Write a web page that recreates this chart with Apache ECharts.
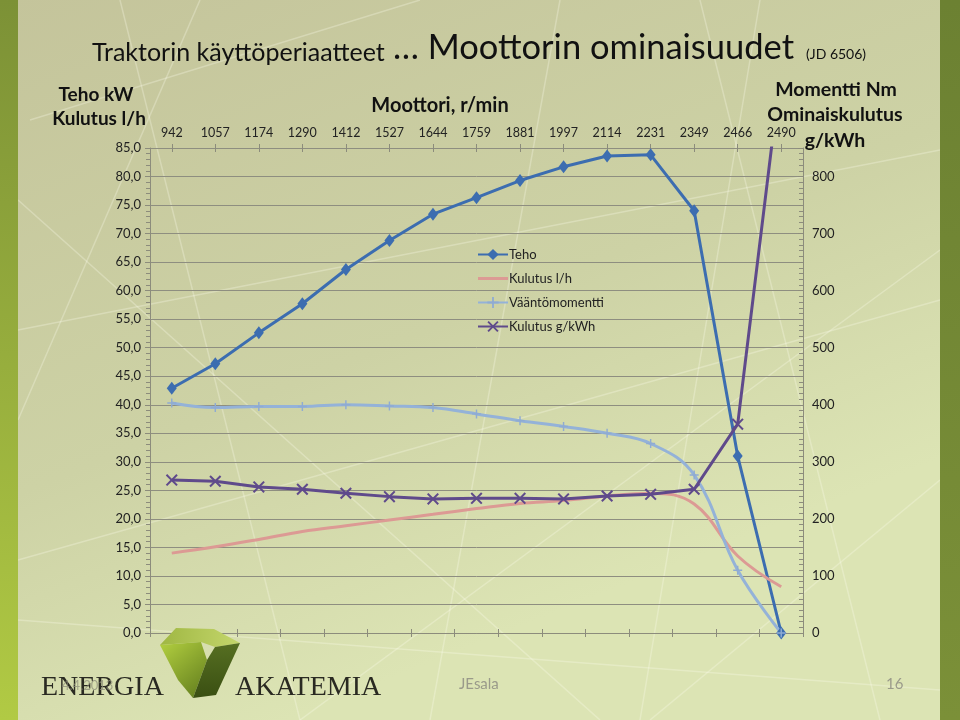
<!DOCTYPE html>
<html>
<head>
<meta charset="utf-8">
<script src="https://cdn.jsdelivr.net/npm/echarts@6/dist/echarts.min.js"></script>
<style>html,body{margin:0;padding:0;}#c{width:960px;height:720px;}</style>
</head>
<body>
<div id="c"></div>
<script>
// ---- data ----
const rpm = ['942','1057','1174','1290','1412','1527','1644','1759','1881','1997','2114','2231','2349','2466','2490'];
const teho = [42.9, 47.2, 52.6, 57.7, 63.7, 68.8, 73.4, 76.3, 79.3, 81.7, 83.6, 83.8, 74.0, 31.0, 0];
const kulutusLh = [14.0, 15.1, 16.4, 17.8, 18.8, 19.8, 20.8, 21.8, 22.7, 23.2, 24.0, 24.5, 22.6, 13.5, 8.1];
const vaanto = [403, 395, 397, 397, 400, 398, 395, 384, 372, 362, 350, 332, 277, 110, 0];
const kulutusGkwh = [268, 266, 256, 252, 245, 239, 235, 236, 236, 235, 240, 243, 252, 366, 990];
const seriesNames = ['Teho', 'Kulutus l/h', 'Vääntömomentti', 'Kulutus g/kWh'];

const FONT = 'Lato';
const chart = echarts.init(document.getElementById('c'), null, {renderer: 'canvas'});
const axisGray = '#8c8c7c';
const xSym = 'path://M0,1.2 L1.2,0 L5,3.8 L8.8,0 L10,1.2 L6.2,5 L10,8.8 L8.8,10 L5,6.2 L1.2,10 L0,8.8 L3.8,5 Z';
const plusSym = 'path://M4.2,0 L5.8,0 L5.8,4.2 L10,4.2 L10,5.8 L5.8,5.8 L5.8,10 L4.2,10 L4.2,5.8 L0,5.8 L0,4.2 L4.2,4.2 Z';

function xAx(show, align, inside) {
  return {
    type: 'category', position: 'top', data: rpm, boundaryGap: true,
    axisLine: {show: show, lineStyle: {color: axisGray}},
    axisTick: {show: true, alignWithLabel: align, inside: inside, length: 4, lineStyle: {color: axisGray}},
    axisLabel: {show: show, interval: 0, margin: 9, fontFamily: FONT, fontSize: 12.5, color: '#222'},
    splitLine: {show: false}
  };
}

const lines = [];
// decorative faint background lines
const deco = [
  [[30,120],[420,0]], [[120,0],[300,720]], [[560,0],[430,720]], [[700,0],[880,720]],
  [[18,330],[940,150]], [[18,560],[940,300]], [[300,720],[940,250]], [[18,200],[600,720]],
  [[650,720],[940,480]], [[200,0],[18,420]], [[760,0],[640,720]], [[18,620],[940,690]]
];
deco.forEach(d => lines.push({type:'line', z:-9, silent:true,
  shape:{x1:d[0][0],y1:d[0][1],x2:d[1][0],y2:d[1][1]},
  style:{stroke:'rgba(255,255,240,0.28)', lineWidth:1.5}}));

const option = {
  animation: false,
  graphic: [
    {type:'rect', z:-10, silent:true, shape:{x:0,y:0,width:960,height:720},
      style:{fill:{type:'linear',x:0,y:0,x2:0.3,y2:1,colorStops:[{offset:0,color:'#c4c49b'},{offset:0.6,color:'#cdd2a5'},{offset:1,color:'#dce4b4'}]}}},
    {type:'rect', z:-8, silent:true, shape:{x:0,y:0,width:18,height:720},
      style:{fill:{type:'linear',x:0,y:0,x2:0,y2:1,colorStops:[{offset:0,color:'#7c9136'},{offset:1,color:'#b1ca44'}]}}},
    {type:'rect', z:-8, silent:true, shape:{x:940,y:0,width:20,height:720},
      style:{fill:{type:'linear',x:0,y:0,x2:0,y2:1,colorStops:[{offset:0,color:'#6c8132'},{offset:1,color:'#7b9038'}]}}},
    ...lines,
    // titles
    {type:'text', left:92, top:40, style:{text:'Traktorin käyttöperiaatteet', font:'25px '+FONT, fill:'#111'}},
    {type:'text', left:393, top:30, style:{text:'… Moottorin ominaisuudet', font:'34.5px '+FONT, fill:'#111'}},
    {type:'text', left:806, top:47, style:{text:'(JD 6506)', font:'14px '+FONT, fill:'#111'}},
    {type:'text', x:96, y:95, style:{text:'Teho kW', font:'bold 19px '+FONT, fill:'#111', align:'center', verticalAlign:'middle'}},
    {type:'text', x:99, y:119, style:{text:'Kulutus l/h', font:'bold 19px '+FONT, fill:'#111', align:'center', verticalAlign:'middle'}},
    {type:'text', x:440, y:106, style:{text:'Moottori, r/min', font:'bold 20px '+FONT, fill:'#111', align:'center', verticalAlign:'middle'}},
    {type:'text', x:836, y:90, style:{text:'Momentti Nm', font:'bold 19.5px '+FONT, fill:'#111', align:'center', verticalAlign:'middle'}},
    {type:'text', x:835, y:115, style:{text:'Ominaiskulutus', font:'bold 19.5px '+FONT, fill:'#111', align:'center', verticalAlign:'middle'}},
    {type:'text', x:835, y:141, style:{text:'g/kWh', font:'bold 19.5px '+FONT, fill:'#111', align:'center', verticalAlign:'middle'}},
    // logo
    {type:'polygon', z:5, silent:true, shape:{points:[[176,628],[214,629],[240,643],[215,647],[201,642],[160,645]]},
      style:{fill:{type:'linear',x:0,y:0,x2:1,y2:0,colorStops:[{offset:0,color:'#9fb742'},{offset:1,color:'#c4d66c'}]}}},
    {type:'polygon', z:5, silent:true, shape:{points:[[160,645],[201,642],[207,660],[193,698],[178,680]]},
      style:{fill:{type:'linear',x:0,y:0,x2:1,y2:1,colorStops:[{offset:0,color:'#b3d040'},{offset:1,color:'#5f7a1c'}]}}},
    {type:'polygon', z:5, silent:true, shape:{points:[[215,647],[240,643],[216,695],[193,698],[207,660]]},
      style:{fill:{type:'linear',x:0,y:0,x2:0,y2:1,colorStops:[{offset:0,color:'#566f22'},{offset:1,color:'#3a4f12'}]}}},
    {type:'text', z:6, left:41, top:674, style:{text:'ENERGIA', font:'28px "Liberation Serif"', fill:'#2a2a22', shadowColor:'rgba(0,0,0,0.35)', shadowBlur:2, shadowOffsetX:1, shadowOffsetY:1}},
    {type:'text', z:6, left:235, top:674, style:{text:'AKATEMIA', font:'28px "Liberation Serif"', fill:'#2a2a22', shadowColor:'rgba(0,0,0,0.35)', shadowBlur:2, shadowOffsetX:1, shadowOffsetY:1}},
    {type:'text', z:7, left:62, top:679, style:{text:'4.4.2013', font:'13px '+FONT, fill:'rgba(140,140,120,0.75)'}},
    {type:'text', left:459, top:677, style:{text:'JEsala', font:'15px '+FONT, fill:'#9a9a8a'}},
    {type:'text', left:886, top:677, style:{text:'16', font:'15px '+FONT, fill:'#9a9a8a'}}
  ],
  legend: {
    orient: 'vertical', left: 472, top: 243, itemGap: 11, itemWidth: 30, itemHeight: 14,
    data: [
      seriesNames[0],
      {name: seriesNames[1], icon: 'path://M0,0 L30,0 L30,3 L0,3 Z'},
      seriesNames[2],
      seriesNames[3]
    ],
    textStyle: {fontFamily: FONT, fontSize: 13, color: '#222', padding: [0,0,0,-4]}
  },
  grid: {left: 150, right: 157, top: 148, bottom: 87, containLabel: false},
  xAxis: [xAx(true, false, false), xAx(false, false, true), xAx(false, true, false), xAx(false, true, true)],
  yAxis: [
    {type:'value', position:'left', min:0, max:85, interval:5,
      axisLine:{show:true, lineStyle:{color:axisGray}},
      axisTick:{show:true, length:5, lineStyle:{color:axisGray}},
      minorTick:{show:true, splitNumber:5, length:4, lineStyle:{color:axisGray}},
      splitLine:{show:true, lineStyle:{color:'#8e8e80', width:1}},
      axisLabel:{margin:9, fontFamily:FONT, fontSize:13, color:'#222',
        formatter: v => v.toFixed(1).replace('.', ',')}},
    {type:'value', position:'right', min:0, max:850, interval:100,
      axisLine:{show:true, lineStyle:{color:axisGray}},
      axisTick:{show:true, length:5, inside:true, lineStyle:{color:axisGray}},
      minorTick:{show:true, splitNumber:10, length:4, lineStyle:{color:axisGray}},
      splitLine:{show:false},
      axisLabel:{margin:9, fontFamily:FONT, fontSize:13, color:'#222',
        formatter: v => (v > 800 ? '' : String(v))}}
  ],
  series: [
    {name:'Teho', type:'line', xAxisIndex:0, yAxisIndex:0, data:teho,
      symbol:'diamond', symbolSize:[10,13],
      lineStyle:{color:'#3c6db0', width:3}, itemStyle:{color:'#3c6db0'}},
    {name:'Kulutus l/h', type:'line', xAxisIndex:0, yAxisIndex:0, data:kulutusLh,
      smooth:0.4, symbol:'none',
      lineStyle:{color:'#dc9a94', width:3}, itemStyle:{color:'#dc9a94'}},
    {name:'Vääntömomentti', type:'line', xAxisIndex:0, yAxisIndex:1, data:vaanto,
      smooth:0.4, symbol:plusSym, symbolSize:9,
      lineStyle:{color:'#94b2d8', width:3}, itemStyle:{color:'#8fabd2'}},
    {name:'Kulutus g/kWh', type:'line', xAxisIndex:0, yAxisIndex:1, data:kulutusGkwh,
      symbol:xSym, symbolSize:12, clip:true,
      lineStyle:{color:'#5f4a8b', width:3}, itemStyle:{color:'#5f4a8b'}}
  ]
};
chart.setOption(option);
</script>
</body>
</html>
